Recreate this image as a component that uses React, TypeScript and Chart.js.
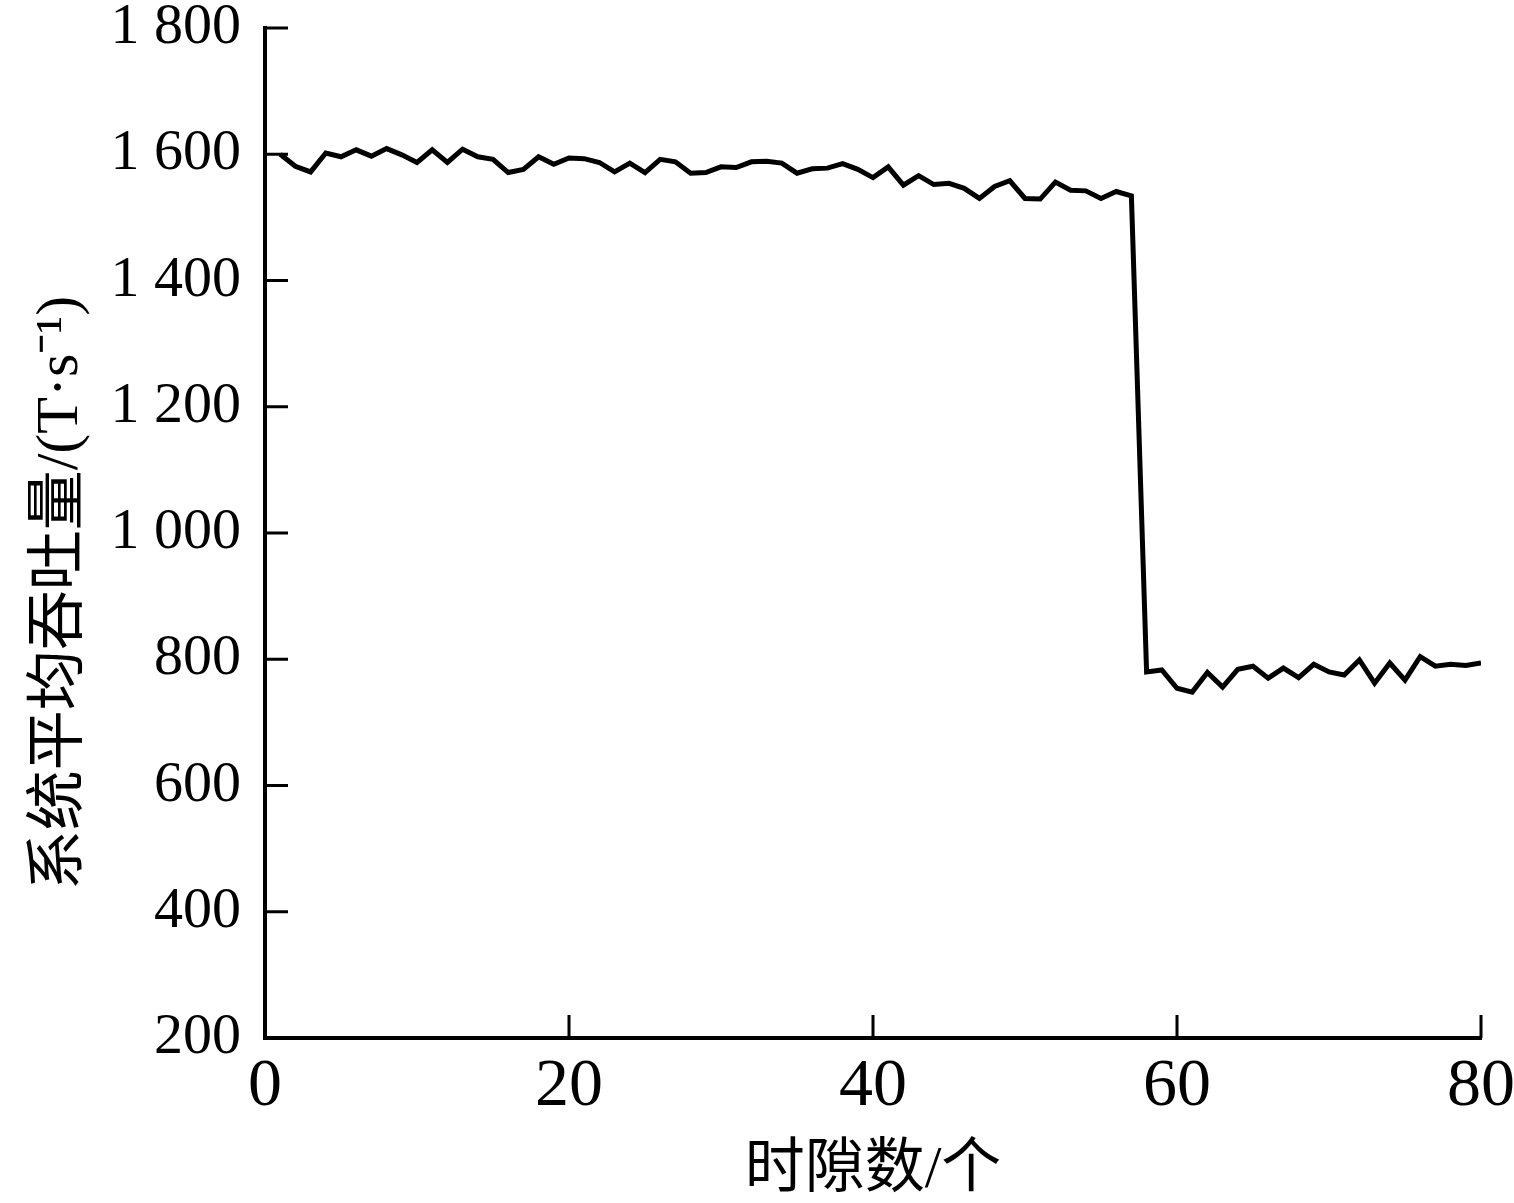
import React, { useEffect, useRef } from "react";
import { Chart, registerables } from "chart.js";

Chart.register(...registerables);

const slots = [
  1, 2, 3, 4, 5, 6, 7, 8, 9, 10, 11, 12, 13, 14, 15, 16, 17, 18, 19, 20,
  21, 22, 23, 24, 25, 26, 27, 28, 29, 30, 31, 32, 33, 34, 35, 36, 37, 38, 39, 40,
  41, 42, 43, 44, 45, 46, 47, 48, 49, 50, 51, 52, 53, 54, 55, 56, 57, 58, 59, 60,
  61, 62, 63, 64, 65, 66, 67, 68, 69, 70, 71, 72, 73, 74, 75, 76, 77, 78, 79, 80,
];

const throughput = [
  1600, 1581, 1572, 1602, 1596, 1607, 1597, 1609, 1599, 1587, 1607, 1587, 1608, 1596, 1592, 1571, 1576, 1596, 1584, 1594,
  1593, 1587, 1572, 1586, 1571, 1592, 1588, 1570, 1571, 1580, 1579, 1588, 1589, 1586, 1570, 1577, 1578, 1585, 1576, 1563,
  1580, 1551, 1566, 1552, 1554, 1546, 1530, 1549, 1558, 1530, 1529, 1556, 1543, 1542, 1530, 1541, 1534, 780, 783, 754,
  748, 779, 756, 784, 789, 770, 786, 771, 792, 780, 775, 799, 762, 794, 767, 804, 789, 792, 790, 794,
];

const xTitle = "时隙数/个";
const yTitle = "系统平均吞吐量/(T·s⁻¹)\u3000\u3000";
const xMin = 0, xMax = 80, xStep = 20;
const yMin = 200, yMax = 1800, yStep = 200;

const W = 1514, H = 1203;
const PLOT_LEFT = 265, PLOT_RIGHT = 1481, PLOT_TOP = 28, PLOT_BOTTOM = 1038;

const SERIF = "'Liberation Serif', 'Times New Roman', 'Noto Sans CJK SC', serif";

const inwardTicks = {
  id: "inwardTicks",
  afterDatasetsDraw(chart: any) {
    const { ctx, scales, chartArea } = chart;
    const len = 23;
    ctx.save();
    ctx.strokeStyle = "#000";
    ctx.lineWidth = 3;
    ctx.beginPath();
    scales.y.ticks.forEach((t: any) => {
      const y = scales.y.getPixelForValue(t.value);
      ctx.moveTo(chartArea.left, y);
      ctx.lineTo(chartArea.left + len, y);
    });
    scales.x.ticks.forEach((t: any) => {
      const x = scales.x.getPixelForValue(t.value);
      ctx.moveTo(x, chartArea.bottom);
      ctx.lineTo(x, chartArea.bottom - len);
    });
    ctx.stroke();
    ctx.restore();
  },
};

export default function App() {
  const ref = useRef<HTMLCanvasElement | null>(null);

  useEffect(() => {
    if (!ref.current) return;
    const points = slots.map((s, i) => ({ x: s, y: throughput[i] }));
    const chart = new Chart(ref.current, {
      type: "line",
      data: {
        datasets: [
          {
            data: points,
            borderColor: "#000",
            borderWidth: 5,
            pointRadius: 0,
            tension: 0,
            fill: false,
          },
        ],
      },
      options: {
        responsive: false,
        animation: false,
        devicePixelRatio: 1,
        layout: { padding: { left: 0, top: PLOT_TOP, right: W - PLOT_RIGHT, bottom: 0 } },
        plugins: { legend: { display: false }, tooltip: { enabled: false } },
        scales: {
          x: {
            type: "linear",
            min: xMin,
            max: xMax,
            grid: { display: false, drawTicks: false },
            border: { display: true, color: "#000", width: 4 },
            ticks: {
              stepSize: xStep,
              color: "#000",
              padding: 8,
              maxRotation: 0,
              font: { family: SERIF, size: 68 },
            },
            title: {
              display: true,
              text: xTitle,
              color: "#000",
              padding: { top: 0, bottom: -4 },
              font: { family: SERIF, size: 60 },
            },
            afterFit: (s: any) => {
              s.height = H - PLOT_BOTTOM;
              s.paddingLeft = 0;
              s.paddingRight = 0;
            },
          },
          y: {
            min: yMin,
            max: yMax,
            grid: { display: false, drawTicks: false },
            border: { display: true, color: "#000", width: 4 },
            ticks: {
              stepSize: yStep,
              color: "#000",
              padding: 24,
              font: { family: SERIF, size: 58, lineHeight: 1 },
              callback: (v: any) => {
                const n = Number(v);
                if (n >= 1000) {
                  const th = Math.floor(n / 1000);
                  const rest = String(n % 1000).padStart(3, "0");
                  return th + " " + rest;
                }
                return String(n);
              },
            },
            title: {
              display: true,
              text: yTitle,
              color: "#000",
              padding: { top: 25, bottom: 0 },
              font: { family: SERIF, size: 60 },
            },
            afterFit: (s: any) => {
              s.width = PLOT_LEFT;
              s.paddingTop = 0;
              s.paddingBottom = 0;
            },
          },
        },
      },
      plugins: [inwardTicks],
    });
    return () => chart.destroy();
  }, []);

  return (
    <div style={{ position: "absolute", left: 0, top: 0, width: W, height: H, background: "#fff" }}>
      <canvas ref={ref} width={W} height={H} style={{ width: W, height: H, display: "block" }} />
    </div>
  );
}
